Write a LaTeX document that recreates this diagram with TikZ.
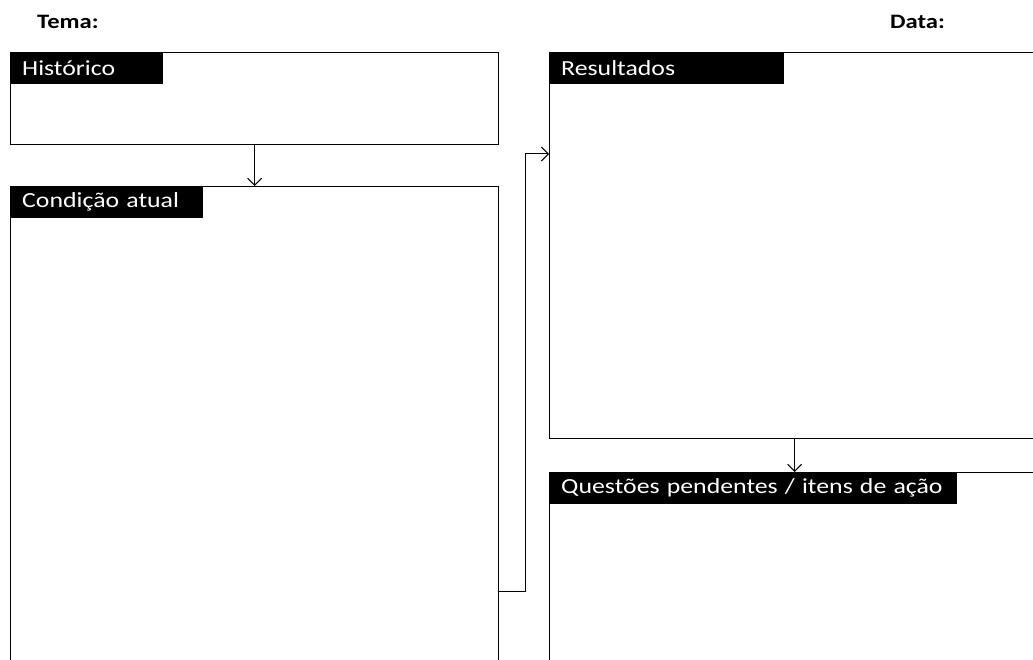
\documentclass[tikz,border=0pt]{standalone}
\usepackage{fontspec}
\setmainfont[FakeStretch=1.2]{Carlito}
\usetikzlibrary{arrows.meta}
\begin{document}
\begin{tikzpicture}[x=1pt,y=-1pt,
  box/.style={draw=black,line width=1.2pt,anchor=north west,inner sep=0pt,fill=none},
  lbl/.style={fill=black,text=white,anchor=north west,inner xsep=12pt,inner ysep=0pt,
     minimum height=32pt,font=\fontsize{21.5}{26}\selectfont,align=left},
  ttl/.style={font=\bfseries\fontsize{20.5}{24}\selectfont,anchor=base west,inner sep=0pt},
  arr/.style={draw=black,line width=1pt,-{Straight Barb[length=7pt,width=14pt,line width=1pt]}}]
\clip (0,0) rectangle (1033,660);
\useasboundingbox (0,0) rectangle (1033,660);
\node[ttl] (tema) at (37,29) {Tema:};
\node[ttl] (data) at (890,29) {Data:};
\node[box,minimum width=488pt,minimum height=92pt] (hist) at (10,52) {};
\node[box,minimum width=488pt,minimum height=810pt] (cond) at (10,186) {};
\node[box,minimum width=490pt,minimum height=386pt] (res) at (549,52) {};
\node[box,minimum width=490pt,minimum height=400pt] (ques) at (549,472) {};
\node[lbl,text width=129pt] (histl) at (hist.north west) {\mbox{Histórico}};
\node[lbl,text width=169pt] (condl) at (cond.north west) {\mbox{Condição atual}};
\node[lbl,text width=211pt] (resl) at (res.north west) {\mbox{Resultados}};
\node[lbl,text width=384pt] (quesl) at (ques.north west) {\mbox{Questões pendentes / itens de ação}};
\draw[arr] (hist.south) -- (cond.north);
\draw[arr] (res.south) -- (ques.north);
\draw[arr] (cond.east) -- ++(26,0) |- ([yshift=-102pt]res.north west);
\end{tikzpicture}
\end{document}
